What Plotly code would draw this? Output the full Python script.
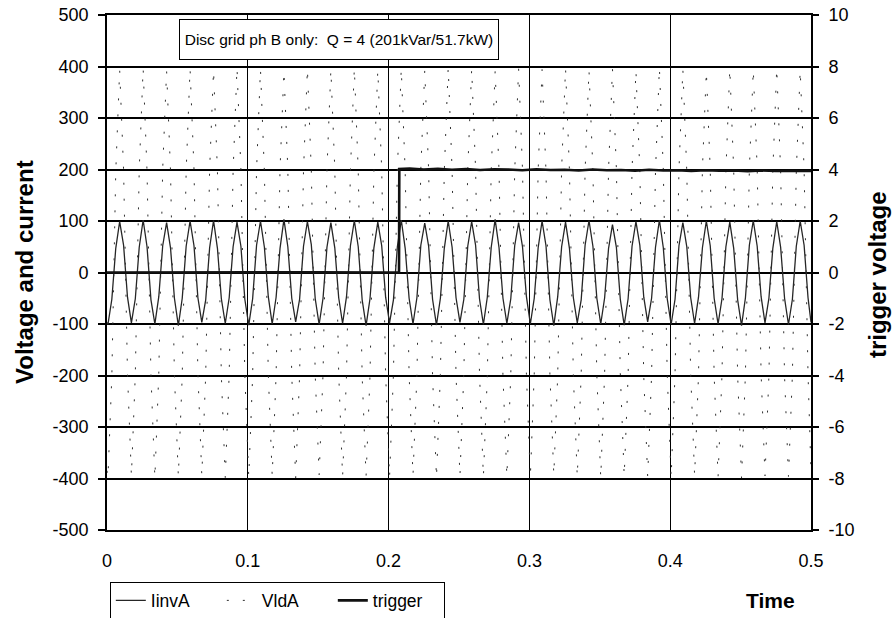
import plotly.graph_objects as go

# ---- data ----
# sample times in milliseconds (6 samples per 60 Hz cycle, trough at ~0.67 ms)
time_ms = [
    0.0,
    0.67, 3.44, 6.22, 9.00, 11.78, 14.56, 17.33, 20.11, 22.89,
    25.67, 28.44, 31.22, 34.00, 36.78, 39.56, 42.33, 45.11, 47.89,
    50.67, 53.44, 56.22, 59.00, 61.78, 64.56, 67.33, 70.11, 72.89,
    75.67, 78.44, 81.22, 84.00, 86.78, 89.56, 92.33, 95.11, 97.89,
    100.67, 103.44, 106.22, 109.00, 111.78, 114.56, 117.33, 120.11, 122.89,
    125.67, 128.44, 131.22, 134.00, 136.78, 139.56, 142.33, 145.11, 147.89,
    150.67, 153.44, 156.22, 159.00, 161.78, 164.56, 167.33, 170.11, 172.89,
    175.67, 178.44, 181.22, 184.00, 186.78, 189.56, 192.33, 195.11, 197.89,
    200.67, 203.44, 206.22, 209.00, 211.78, 214.56, 217.33, 220.11, 222.89,
    225.67, 228.44, 231.22, 234.00, 236.78, 239.56, 242.33, 245.11, 247.89,
    250.67, 253.44, 256.22, 259.00, 261.78, 264.56, 267.33, 270.11, 272.89,
    275.67, 278.44, 281.22, 284.00, 286.78, 289.56, 292.33, 295.11, 297.89,
    300.67, 303.44, 306.22, 309.00, 311.78, 314.56, 317.33, 320.11, 322.89,
    325.67, 328.44, 331.22, 334.00, 336.78, 339.56, 342.33, 345.11, 347.89,
    350.67, 353.44, 356.22, 359.00, 361.78, 364.56, 367.33, 370.11, 372.89,
    375.67, 378.44, 381.22, 384.00, 386.78, 389.56, 392.33, 395.11, 397.89,
    400.67, 403.44, 406.22, 409.00, 411.78, 414.56, 417.33, 420.11, 422.89,
    425.67, 428.44, 431.22, 434.00, 436.78, 439.56, 442.33, 445.11, 447.89,
    450.67, 453.44, 456.22, 459.00, 461.78, 464.56, 467.33, 470.11, 472.89,
    475.67, 478.44, 481.22, 484.00, 486.78, 489.56, 492.33, 495.11, 497.89,
    500.0,
]

iinv_a = [
    -97,
    -101, -52, 47, 99, 53, -48,
    -98, -51, 49, 102, 50, -53,
    -100, -47, 52, 97, 48, -50,
    -103, -50, 51, 100, 52, -49,
    -97, -53, 48, 101, 47, -51,
    -99, -49, 50, 98, 51, -52,
    -102, -51, 53, 100, 49, -47,
    -100, -48, 47, 103, 50, -50,
    -96, -52, 51, 99, 54, -51,
    -101, -50, 49, 97, 48, -49,
    -99, -47, 52, 101, 50, -53,
    -103, -51, 48, 98, 52, -48,
    -98, -53, 50, 102, 47, -50,
    -100, -49, 53, 96, 51, -52,
    -102, -50, 47, 100, 49, -49,
    -97, -52, 51, 99, 53, -51,
    -101, -48, 49, 103, 48, -50,
    -99, -51, 52, 97, 50, -47,
    -100, -50, 48, 100, 52, -53,
    -103, -47, 50, 98, 47, -49,
    -98, -53, 53, 101, 51, -50,
    -100, -49, 47, 93, 49, -52,
    -102, -51, 51, 99, 53, -48,
    -96, -50, 49, 102, 48, -51,
    -101, -52, 52, 97, 50, -49,
    -99, -48, 48, 100, 52, -50,
    -100, -51, 50, 98, 47, -53,
    -103, -49, 53, 101, 51, -47,
    -98, -50, 47, 99, 49, -50,
    -101, -52, 51, 100, 53, -49,
    -97,
]

vld_a = [
    -385,
    -398, -201, 196, 394, 199, -197,
    -395, -198, 199, 397, 196, -200,
    -399, -196, 201, 392, 198, -199,
    -396, -200, 197, 396, 201, -196,
    -394, -199, 200, 393, 197, -201,
    -398, -197, 196, 398, 200, -198,
    -397, -201, 199, 395, 196, -197,
    -395, -198, 201, 391, 199, -200,
    -399, -200, 197, 396, 198, -199,
    -393, -196, 200, 394, 201, -196,
    -397, -199, 198, 397, 197, -201,
    -396, -201, 196, 393, 200, -198,
    -398, -197, 199, 396, 196, -197,
    -394, -200, 201, 392, 199, -200,
    -399, -198, 197, 398, 198, -199,
    -395, -196, 200, 395, 201, -196,
    -397, -201, 198, 391, 197, -201,
    -396, -199, 196, 396, 200, -198,
    -398, -197, 199, 394, 196, -197,
    -393, -200, 201, 397, 199, -200,
    -397, -198, 197, 393, 198, -199,
    -399, -196, 200, 396, 201, -196,
    -395, -201, 198, 392, 197, -201,
    -396, -199, 196, 398, 200, -198,
    -398, -197, 199, 395, 196, -197,
    -394, -200, 201, 391, 199, -200,
    -397, -198, 197, 396, 198, -199,
    -399, -196, 200, 394, 201, -196,
    -395, -201, 198, 397, 197, -201,
    -396, -199, 196, 393, 200, -198,
    -386,
]

trigger_t = [0.0, 0.05, 0.10, 0.15, 0.20, 0.2074, 0.2076, 0.215, 0.225, 0.235,
             0.245, 0.255, 0.265, 0.275, 0.285, 0.295, 0.305, 0.315, 0.325,
             0.335, 0.345, 0.355, 0.365, 0.375, 0.385, 0.395, 0.405, 0.415,
             0.425, 0.435, 0.445, 0.455, 0.465, 0.475, 0.485, 0.495, 0.5]
trigger_v = [0.0, 0.01, 0.0, 0.01, 0.0, 0.0, 4.02, 4.04, 4.0, 4.03,
             3.99, 4.02, 3.98, 4.01, 4.0, 3.97, 4.01, 3.98, 3.99,
             3.96, 4.0, 3.97, 3.98, 3.95, 3.99, 3.96, 3.97, 3.94,
             3.97, 3.95, 3.96, 3.93, 3.96, 3.94, 3.95, 3.93, 3.94]

x_ticks = [0, 0.1, 0.2, 0.3, 0.4, 0.5]
x_labels = ["0", "0.1", "0.2", "0.3", "0.4", "0.5"]
y_ticks = [500, 400, 300, 200, 100, 0, -100, -200, -300, -400, -500]
y_labels = ["500", "400", "300", "200", "100", "0", "-100", "-200", "-300", "-400", "-500"]
y2_ticks = [10, 8, 6, 4, 2, 0, -2, -4, -6, -8, -10]
y2_labels = ["10", "8", "6", "4", "2", "0", "-2", "-4", "-6", "-8", "-10"]
title_text = "Disc grid ph B only:  Q = 4 (201kVar/51.7kW)"
y_title = "Voltage and current"
y2_title = "trigger voltage"
x_title = "Time"

time_s = [t / 1000.0 for t in time_ms]

FONT = "Liberation Sans, Arial, Helvetica, sans-serif"

fig = go.Figure()
fig.add_trace(go.Scatter(
    x=time_s, y=iinv_a, name="IinvA", mode="lines",
    line=dict(color="#262626", width=1.3),
))
fig.add_trace(go.Scatter(
    x=time_s, y=vld_a, name="VldA", mode="lines",
    line=dict(color="#303030", width=1, dash="2px,14px"),
))
fig.add_trace(go.Scatter(
    x=trigger_t, y=trigger_v, name="trigger", mode="lines", yaxis="y2",
    line=dict(color="#111111", width=2.6),
))

fig.update_layout(
    width=892, height=618,
    margin=dict(l=107, r=81, t=15, b=88, autoexpand=False),
    paper_bgcolor="white", plot_bgcolor="white",
    font=dict(family=FONT, size=18, color="black"),
    showlegend=True,
    legend=dict(
        orientation="h", x=0.004, y=-0.1, xanchor="left", yanchor="top",
        bordercolor="black", borderwidth=1, bgcolor="white",
        font=dict(size=17.5), tracegroupgap=0, itemwidth=30,
        entrywidth=66, entrywidthmode="pixels",
    ),
    xaxis=dict(
        range=[0, 0.5], tickvals=x_ticks, ticktext=x_labels,
        showgrid=True, gridcolor="black", gridwidth=1.4,
        showline=True, linecolor="black", linewidth=1.6, mirror=True,
        ticks="outside", ticklen=0, ticklabelstandoff=14,
        zeroline=False, tickfont=dict(size=18), automargin=False,
    ),
    yaxis=dict(
        range=[-500, 500], tickvals=y_ticks, ticktext=y_labels,
        showgrid=True, gridcolor="black", gridwidth=1.8,
        showline=True, linecolor="black", linewidth=1.6, mirror=True,
        ticks="outside", ticklen=7, tickwidth=1.5, tickcolor="black",
        ticklabelstandoff=6, zeroline=False, ticklabeloverflow="allow",
        tickfont=dict(size=18), automargin=False,
    ),
    yaxis2=dict(
        range=[-10, 10], tickvals=y2_ticks, ticktext=y2_labels,
        overlaying="y", side="right",
        showgrid=False, zeroline=False, showline=False,
        ticks="outside", ticklen=7, tickwidth=1.5, tickcolor="black",
        ticklabelstandoff=6, ticklabeloverflow="allow",
        tickfont=dict(size=18), automargin=False,
    ),
    annotations=[
        dict(text=title_text, xref="paper", yref="paper", x=0.329, y=0.992,
             xanchor="center", yanchor="top", showarrow=False,
             font=dict(size=15.5), bordercolor="black", borderwidth=1,
             borderpad=3, bgcolor="white", width=312, height=33),
        dict(text="<b>" + x_title + "</b>", xref="paper", yref="paper",
             x=0.943, y=-0.136, xanchor="center", yanchor="middle",
             showarrow=False, font=dict(size=21)),
        dict(text="<b>" + y_title + "</b>", xref="paper", yref="paper",
             x=-0.1165, y=0.501, xanchor="center", yanchor="middle",
             textangle=-90, showarrow=False, font=dict(size=24)),
        dict(text="<b>" + y2_title + "</b>", xref="paper", yref="paper",
             x=1.0938, y=0.495, xanchor="center", yanchor="middle",
             textangle=-90, showarrow=False, font=dict(size=24)),
    ],
)

# remove the page's default 8 px body margin so the figure fills the window
fig.write_html("out.html", config={"displayModeBar": False},
               post_script="document.body.style.margin='0';")
